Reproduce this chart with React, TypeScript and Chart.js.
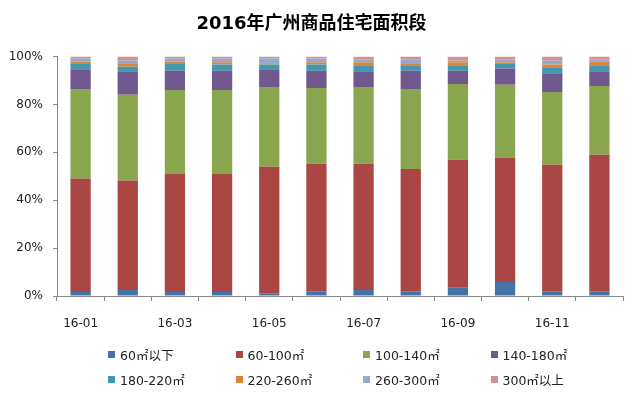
import React, { useEffect, useRef } from "react";
import { Chart, registerables } from "chart.js";
Chart.register(...registerables);

const months = ["16-01", "16-02", "16-03", "16-04", "16-05", "16-06", "16-07", "16-08", "16-09", "16-10", "16-11", "16-12"];
const seriesNames = ["60㎡以下", "60-100㎡", "100-140㎡", "140-180㎡", "180-220㎡", "220-260㎡", "260-300㎡", "300㎡以上"];
const seriesColors = ["#4572A7", "#AA4643", "#89A54E", "#71588F", "#4198AF", "#DB843D", "#93A9CF", "#D19392"];

const below60 = [1.7, 2.5, 1.7, 1.7, 1.1, 2.0, 2.5, 2.0, 3.4, 5.9, 2.0, 2.0];
const s60to100 = [47.4, 45.7, 49.3, 49.3, 52.9, 53.2, 52.7, 51.1, 53.5, 51.8, 52.8, 57.0];
const s100to140 = [37.4, 35.9, 35.1, 35.1, 33.3, 31.7, 32.1, 33.4, 31.7, 30.5, 30.4, 28.7];
const s140to180 = [8.2, 9.8, 8.0, 8.0, 7.4, 7.2, 6.6, 7.6, 5.5, 6.8, 7.8, 6.2];
const s180to220 = [2.5, 1.9, 3.1, 2.6, 2.0, 2.6, 2.5, 2.3, 2.3, 2.2, 2.5, 2.5];
const s220to260 = [0.8, 1.4, 0.8, 0.9, 0.5, 0.9, 1.2, 0.8, 1.2, 0.4, 1.2, 1.6];
const s260to300 = [1.2, 1.1, 1.2, 1.6, 2.0, 1.6, 1.3, 1.7, 0.7, 1.3, 1.6, 0.9];
const above300 = [0.8, 1.7, 0.8, 0.8, 0.8, 0.8, 1.1, 1.1, 1.7, 1.1, 1.7, 1.1];

const seriesValues = [below60, s60to100, s100to140, s140to180, s180to220, s220to260, s260to300, above300];
const yTicks = [0, 20, 40, 60, 80, 100];

const FONT = '"DejaVu Sans", "Noto Sans CJK SC", sans-serif';

export default function App() {
  const ref = useRef<HTMLCanvasElement | null>(null);
  useEffect(() => {
    if (!ref.current) return;
    const chart = new Chart(ref.current, {
      type: "bar",
      data: {
        labels: months,
        datasets: seriesValues.map((vals, i) => ({
          label: seriesNames[i],
          data: vals,
          backgroundColor: seriesColors[i],
          borderWidth: 0,
          barPercentage: 0.43,
          categoryPercentage: 1,
        })),
      },
      options: {
        responsive: false,
        animation: false,
        layout: { padding: { left: 0, right: 17, top: 0, bottom: 60 } },
        plugins: {
          legend: { display: false },
          tooltip: { enabled: false },
          title: {
            display: true,
            text: "2016年广州商品住宅面积段",
            color: "#000",
            font: { family: FONT, size: 18, weight: "bold" },
            padding: { top: 14, bottom: 21 },
          },
        },
        scales: {
          x: {
            stacked: true,
            afterFit: (s: any) => { s.height = 38; },
            grid: { drawOnChartArea: false, drawTicks: true, tickLength: 5, color: "#888", offset: true },
            border: { color: "#888" },
            ticks: {
              autoSkip: false,
              maxRotation: 0,
              padding: 16,
              color: "#222",
              font: { family: FONT, size: 12 },
              callback: (_v: any, i: number) => (i % 2 === 0 ? months[i] : ""),
            },
          },
          y: {
            stacked: true,
            min: 0,
            max: 100,
            afterFit: (s: any) => { s.width = 57; },
            afterBuildTicks: (s: any) => { s.ticks = yTicks.map((v) => ({ value: v })); },
            grid: { drawOnChartArea: false, drawTicks: true, tickLength: 4, color: "#888" },
            border: { color: "#888" },
            ticks: {
              padding: 10,
              color: "#222",
              font: { family: FONT, size: 12 },
              callback: (v: any) => v + "%",
            },
          },
        },
      },
    });
    return () => chart.destroy();
  }, []);

  return (
    <div style={{ position: "fixed", left: 0, top: 0, width: 640, height: 394, background: "#fff" }}>
      <canvas ref={ref} width={640} height={394} style={{ width: 640, height: 394, display: "block" }} />
      <div
        style={{
          position: "absolute",
          left: 108,
          top: 342,
          display: "grid",
          gridTemplateColumns: "127.5px 127.5px 127.5px 127.5px",
          gridAutoRows: "25px",
          fontFamily: FONT,
          fontSize: 12.5,
          color: "#222",
        }}
      >
        {seriesNames.map((n, i) => (
          <div key={n} style={{ display: "flex", alignItems: "center", whiteSpace: "nowrap" }}>
            <span style={{ display: "inline-block", width: 7, height: 7, background: seriesColors[i], marginRight: 5 }} />
            <span>{n}</span>
          </div>
        ))}
      </div>
    </div>
  );
}
